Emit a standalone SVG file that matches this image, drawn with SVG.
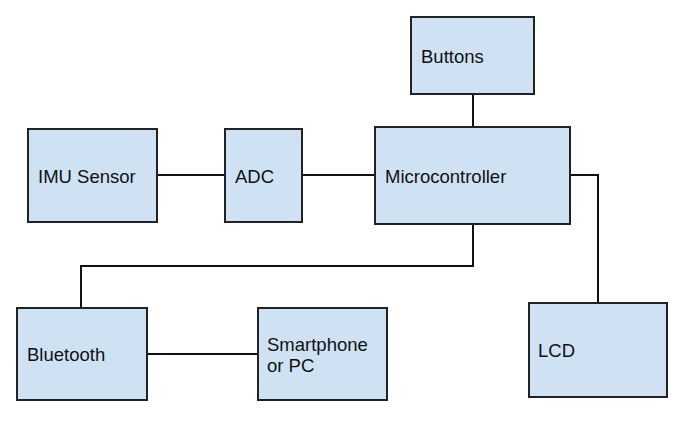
<svg xmlns="http://www.w3.org/2000/svg" width="690" height="424" viewBox="0 0 690 424">
<style>
.box{fill:#cfe2f3;stroke:#222;stroke-width:2}
.lbl{font-family:"Liberation Sans",Arial,sans-serif;font-size:18.5px;fill:#111}
.wire{fill:none;stroke:#111;stroke-width:2}
</style>
<rect width="690" height="424" fill="#fff"/>
<g id="connectors">
<path class="wire" d="M473 94V127"/>
<path class="wire" d="M157 175H225"/>
<path class="wire" d="M302 175H375"/>
<path class="wire" d="M570 175H598V303"/>
<path class="wire" d="M473 224V266H81V308"/>
<path class="wire" d="M147 354H258"/>
</g>
<g id="buttons"><rect class="box" x="411" y="17" width="123" height="77"/><text class="lbl" x="421" y="63">Buttons</text></g>
<g id="imu"><rect class="box" x="28" y="129" width="129" height="93"/><text class="lbl" x="38" y="183">IMU Sensor</text></g>
<g id="adc"><rect class="box" x="225" y="129" width="77" height="93"/><text class="lbl" x="235" y="183">ADC</text></g>
<g id="mcu"><rect class="box" x="375" y="127" width="195" height="97"/><text class="lbl" x="385" y="183">Microcontroller</text></g>
<g id="bluetooth"><rect class="box" x="17" y="308" width="130" height="92"/><text class="lbl" x="27" y="361">Bluetooth</text></g>
<g id="phone"><rect class="box" x="258" y="308" width="129" height="92"/><text class="lbl" x="267" y="351">Smartphone</text><text class="lbl" x="267" y="372">or PC</text></g>
<g id="lcd"><rect class="box" x="529" y="303" width="138" height="94"/><text class="lbl" x="538" y="357">LCD</text></g>
</svg>
